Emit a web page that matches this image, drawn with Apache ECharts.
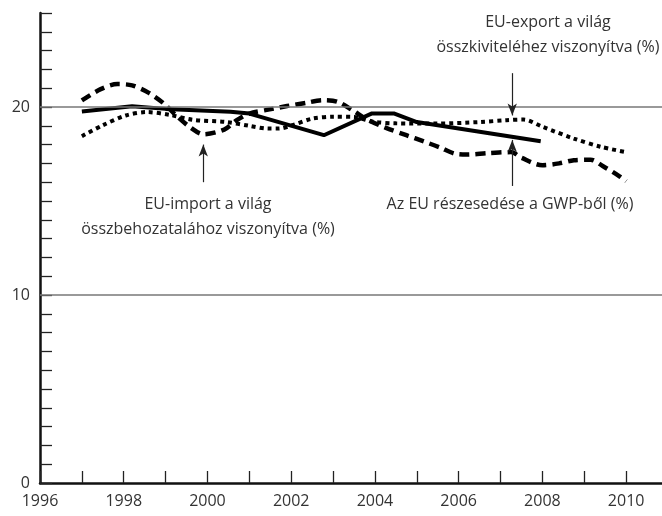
<!DOCTYPE html>
<html>
<head>
<meta charset="utf-8">
<script src="https://cdn.jsdelivr.net/npm/echarts@6/dist/echarts.min.js"></script>
<style>html,body{margin:0;padding:0;background:#fff}#c{width:662px;height:516px}</style>
</head>
<body>
<div id="c"></div>
<script>
// GWP share (solid)
var gwpYears  = [1997.0, 1998.2, 1999.0, 2000.55, 2001.0, 2002.78, 2003.93, 2004.45, 2005.0, 2007.96];
var gwpValues = [19.76, 20.04, 19.9, 19.75, 19.65, 18.5, 19.66, 19.66, 19.2, 18.18];
// Import share (dashed)
var impYears  = [1997.0, 1997.45, 1997.85, 1998.2, 1998.6, 1998.95, 1999.25, 1999.6, 1999.9, 2000.4, 2000.7, 2001.0, 2001.55, 2001.9, 2002.35, 2002.75, 2003.1, 2003.45, 2003.8, 2004.25, 2004.75, 2005.15, 2005.55, 2005.9, 2006.2, 2006.7, 2007.25, 2007.5, 2008.0, 2008.4, 2008.75, 2009.15, 2009.45, 2009.85, 2010.0];
var impValues = [20.35, 20.95, 21.22, 21.15, 20.75, 20.2, 19.55, 18.9, 18.55, 18.8, 19.3, 19.65, 19.9, 20.05, 20.22, 20.36, 20.28, 19.85, 19.35, 18.9, 18.5, 18.18, 17.85, 17.52, 17.47, 17.55, 17.6, 17.3, 16.9, 17.0, 17.17, 17.2, 16.85, 16.3, 16.05];
// Export share (dotted)
var expYears  = [1997.0, 1997.5, 1998.05, 1998.55, 1999.1, 1999.65, 2000.45, 2001.0, 2001.45, 2001.7, 2002.05, 2002.5, 2003.0, 2003.5, 2003.95, 2004.5, 2005.5, 2006.5, 2007.15, 2007.55, 2008.0, 2008.75, 2009.4, 2010.0];
var expValues = [18.45, 19.03, 19.55, 19.73, 19.58, 19.32, 19.2, 19.0, 18.85, 18.85, 19.05, 19.38, 19.48, 19.47, 19.22, 19.13, 19.12, 19.2, 19.3, 19.33, 18.95, 18.32, 17.88, 17.6];
// Axis settings
var xTickLabels = [1996, 1998, 2000, 2002, 2004, 2006, 2008, 2010];
var yTickLabels = [0, 10, 20];
var gridValues = [10, 20];
// Annotation arrows: [x, yFrom, yTo]
var arrowExport = [2007.28, 21.8, 19.55];
var arrowGwp    = [2007.28, 15.8, 18.25];
var arrowImport = [1999.9, 16.0, 18.0];

function pairs(xs, ys){ return xs.map(function(x,i){ return [x, ys[i]]; }); }
var FONT = '"Open Sans", "Noto Sans", sans-serif';
var TXT = '#333';

var chart = echarts.init(document.getElementById('c'));

function label(cx, top, text){
  return { type: 'text', x: cx, y: top, style: { text: text, fill: TXT, font: '16px ' + FONT, textAlign: 'center', textVerticalAlign: 'top', lineHeight: 25 } };
}

chart.setOption({
  animation: false,
  grid: { left: 40, top: 13, width: 628, bottom: 33, containLabel: false, outerBoundsMode: 'none' },
  xAxis: {
    type: 'value', min: 1996, max: 2011, interval: 1,
    axisLine: { lineStyle: { color: '#111', width: 2.5 } },
    axisTick: { inside: true, length: 12, lineStyle: { color: '#222', width: 1.3 } },
    axisLabel: {
      color: TXT, fontFamily: FONT, fontSize: 16, margin: 10, hideOverlap: false,
      formatter: function(v){ return xTickLabels.indexOf(v) >= 0 ? String(v) : ''; }
    },
    splitLine: { show: false }
  },
  yAxis: {
    type: 'value', min: 0, max: 25, interval: 1,
    axisLine: { show: true, lineStyle: { color: '#111', width: 2.5 } },
    axisTick: { show: true, inside: true, length: 12, lineStyle: { color: '#222', width: 1.3 } },
    axisLabel: {
      color: TXT, fontFamily: FONT, fontSize: 16, margin: 10,
      formatter: function(v){ return yTickLabels.indexOf(v) >= 0 ? String(v) : ''; }
    },
    splitLine: { show: false }
  },
  series: [
    {
      type: 'line', data: [], silent: true,
      markLine: {
        silent: true, symbol: 'none', label: { show: false },
        lineStyle: { color: '#777', width: 1.5, type: 'solid' },
        data: gridValues.map(function(v){ return { yAxis: v }; })
      }
    },
    {
      name: 'import', type: 'line', data: pairs(impYears, impValues), showSymbol: false, smooth: 0.3,
      lineStyle: { color: '#000', width: 4.5, type: [10, 6], cap: 'butt' }
    },
    {
      name: 'export', type: 'line', data: pairs(expYears, expValues), showSymbol: false, smooth: 0.3,
      lineStyle: { color: '#000', width: 4, type: [4, 4], cap: 'butt' }
    },
    {
      name: 'gwp', type: 'line', data: pairs(gwpYears, gwpValues), showSymbol: false,
      lineStyle: { color: '#000', width: 4 }
    },
    {
      type: 'line', data: [], silent: true,
      markLine: {
        silent: true, symbol: ['none', 'arrow'], symbolSize: [7, 12], label: { show: false },
        lineStyle: { color: '#222', width: 1.2, type: 'solid' },
        data: [arrowExport, arrowGwp, arrowImport].map(function(a){
          return [{ coord: [a[0], a[1]] }, { coord: [a[0], a[2]] }];
        })
      }
    }
  ],
  graphic: [
    label(548, 10, 'EU-export a világ\nösszkiviteléhez viszonyítva (%)'),
    label(208, 192, 'EU-import a világ\nösszbehozatalához viszonyítva (%)'),
    label(510, 192, 'Az EU részesedése a GWP-ből (%)')
  ]
});
</script>
</body>
</html>
